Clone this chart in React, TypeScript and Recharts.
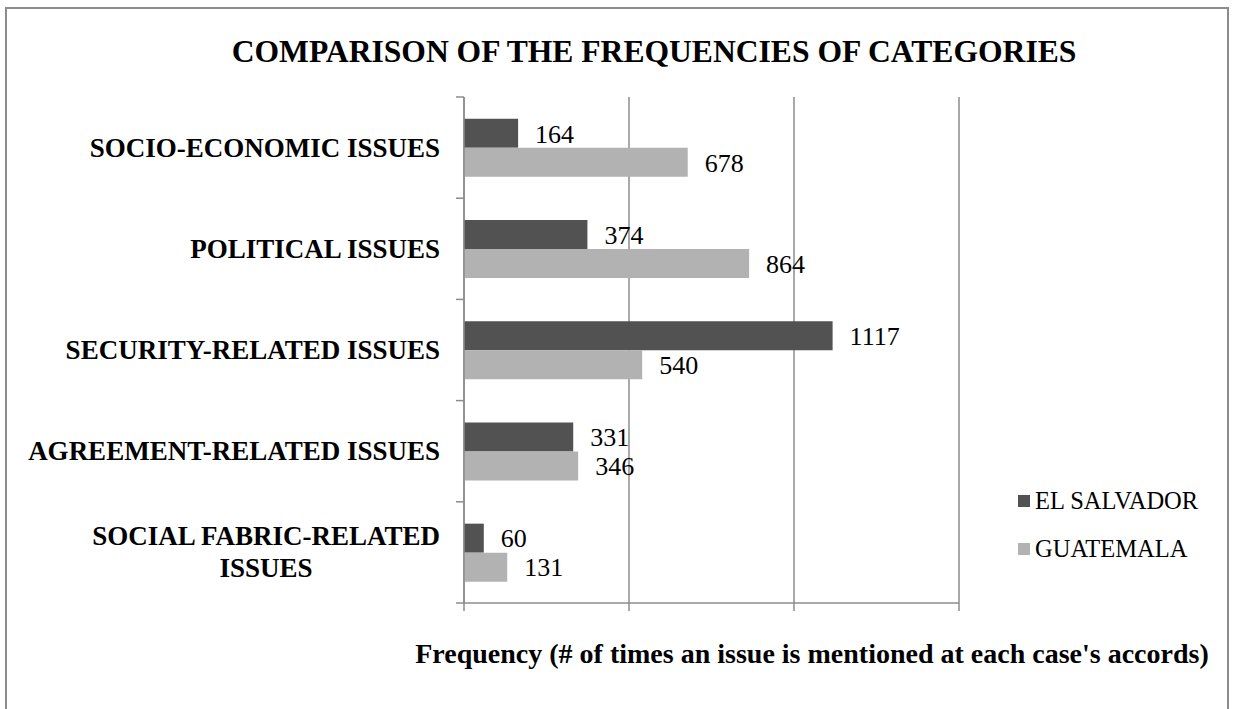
import React, { useLayoutEffect, useRef, useState } from "react";
import {
  BarChart,
  Bar,
  XAxis,
  YAxis,
  CartesianGrid,
  LabelList,
} from "recharts";

// values
const categories = [
  "SOCIO-ECONOMIC ISSUES",
  "POLITICAL ISSUES",
  "SECURITY-RELATED ISSUES",
  "AGREEMENT-RELATED ISSUES",
  "SOCIAL FABRIC-RELATED ISSUES",
];
const elSalvador = [164, 374, 1117, 331, 60];
const guatemala = [678, 864, 540, 346, 131];
const xTicks = [0, 500, 1000, 1500];
const seriesNames = ["EL SALVADOR", "GUATEMALA"];

const data = categories.map((name, i) => ({
  name,
  elSalvador: elSalvador[i],
  guatemala: guatemala[i],
}));

const FONT = '"Liberation Serif", "Times New Roman", serif';
const DARK = "#525252";
const LIGHT = "#b2b2b2";
const AXIS = "#8c8c8c";

const CHART_W = 1220;
const CHART_H = 692;
const Y_AXIS_W = 457;
const PLOT_TOP = 88;
const PLOT_H = 506;
const X_AXIS_H = 30;
const BAND = PLOT_H / categories.length;

function wrapLabel(s: string): string[] {
  if (s.length <= 25) return [s];
  const cut = s.lastIndexOf(" ");
  return [s.slice(0, cut), s.slice(cut + 1)];
}

function CategoryTick(props: any) {
  const { y, payload, index } = props;
  const lines = wrapLabel(String(payload.value));
  const ref = useRef<SVGTextElement>(null);
  const [w, setW] = useState(0);
  useLayoutEffect(() => {
    if (ref.current) setW(ref.current.getComputedTextLength());
  }, []);
  const axisX = Y_AXIS_W;
  const right = axisX - 24;
  const lineH = 32;
  const top = y - BAND / 2;
  const textProps = {
    dominantBaseline: "central" as const,
    fontFamily: FONT,
    fontWeight: "bold",
    fontSize: 27,
    fill: "#000",
  };
  return (
    <g>
      <line x1={axisX - 8} x2={axisX} y1={top} y2={top} stroke={AXIS} strokeWidth={1.5} />
      {index === categories.length - 1 && (
        <line
          x1={axisX - 8}
          x2={axisX}
          y1={top + BAND}
          y2={top + BAND}
          stroke={AXIS}
          strokeWidth={1.5}
        />
      )}
      {lines.length === 1 ? (
        <text x={right} y={y} textAnchor="end" {...textProps}>
          {lines[0]}
        </text>
      ) : (
        <g>
          <text ref={ref} x={right} y={y - lineH / 2} textAnchor="end" {...textProps}>
            {lines[0]}
          </text>
          <text x={right - w / 2} y={y + lineH / 2} textAnchor="middle" {...textProps}>
            {lines[1]}
          </text>
        </g>
      )}
    </g>
  );
}

function LegendBox() {
  const colors = [DARK, LIGHT];
  return (
    <div
      style={{
        position: "absolute",
        left: 1011,
        top: 468,
        fontFamily: FONT,
        fontSize: 24.5,
        color: "#000",
      }}
    >
      {seriesNames.map((n, i) => (
        <div
          key={n}
          style={{ display: "flex", alignItems: "center", height: 48, whiteSpace: "nowrap" }}
        >
          <span
            style={{
              display: "inline-block",
              width: 12,
              height: 12,
              background: colors[i],
              marginRight: 5,
            }}
          />
          {n}
        </div>
      ))}
    </div>
  );
}

export default function App() {
  return (
    <div
      style={{
        position: "absolute",
        left: 5,
        top: 7,
        width: 1224,
        height: 712,
        border: `2px solid ${AXIS}`,
        boxSizing: "border-box",
        background: "#fff",
      }}
    >
      <BarChart
        width={CHART_W}
        height={CHART_H}
        data={data}
        layout="vertical"
        margin={{
          top: PLOT_TOP,
          right: CHART_W - 952,
          left: 0,
          bottom: CHART_H - PLOT_TOP - PLOT_H - X_AXIS_H,
        }}
        barCategoryGap="21.6%"
        barGap={0}
      >
        <CartesianGrid horizontal={false} stroke={AXIS} strokeWidth={1.5} />
        <XAxis
          type="number"
          domain={[0, 1500]}
          ticks={xTicks}
          tick={() => <g />}
          tickSize={8}
          height={X_AXIS_H}
          axisLine={{ stroke: AXIS, strokeWidth: 1.5 }}
          tickLine={{ stroke: AXIS, strokeWidth: 1.5 }}
        />
        <YAxis
          type="category"
          dataKey="name"
          width={Y_AXIS_W}
          interval={0}
          tickLine={false}
          axisLine={{ stroke: AXIS, strokeWidth: 1.5 }}
          tick={<CategoryTick />}
        />
        <Bar dataKey="elSalvador" name={seriesNames[0]} fill={DARK} isAnimationActive={false}>
          <LabelList
            dataKey="elSalvador"
            position="right"
            offset={17}
            fill="#000"
            fontSize={26}
            fontFamily={FONT}
          />
        </Bar>
        <Bar dataKey="guatemala" name={seriesNames[1]} fill={LIGHT} isAnimationActive={false}>
          <LabelList
            dataKey="guatemala"
            position="right"
            offset={17}
            fill="#000"
            fontSize={26}
            fontFamily={FONT}
          />
        </Bar>
      </BarChart>
      <LegendBox />
      <svg
        width={1220}
        height={700}
        style={{ position: "absolute", left: 0, top: 0, pointerEvents: "none" }}
      >
        <text
          x={647}
          y={53}
          textAnchor="middle"
          fontFamily={FONT}
          fontWeight="bold"
          fontSize={31.6}
          fill="#000"
        >
          COMPARISON OF THE FREQUENCIES OF CATEGORIES
        </text>
        <text
          x={805}
          y={654}
          textAnchor="middle"
          fontFamily={FONT}
          fontWeight="bold"
          fontSize={28}
          fill="#000"
        >
          Frequency (# of times an issue is mentioned at each case's accords)
        </text>
      </svg>
    </div>
  );
}
